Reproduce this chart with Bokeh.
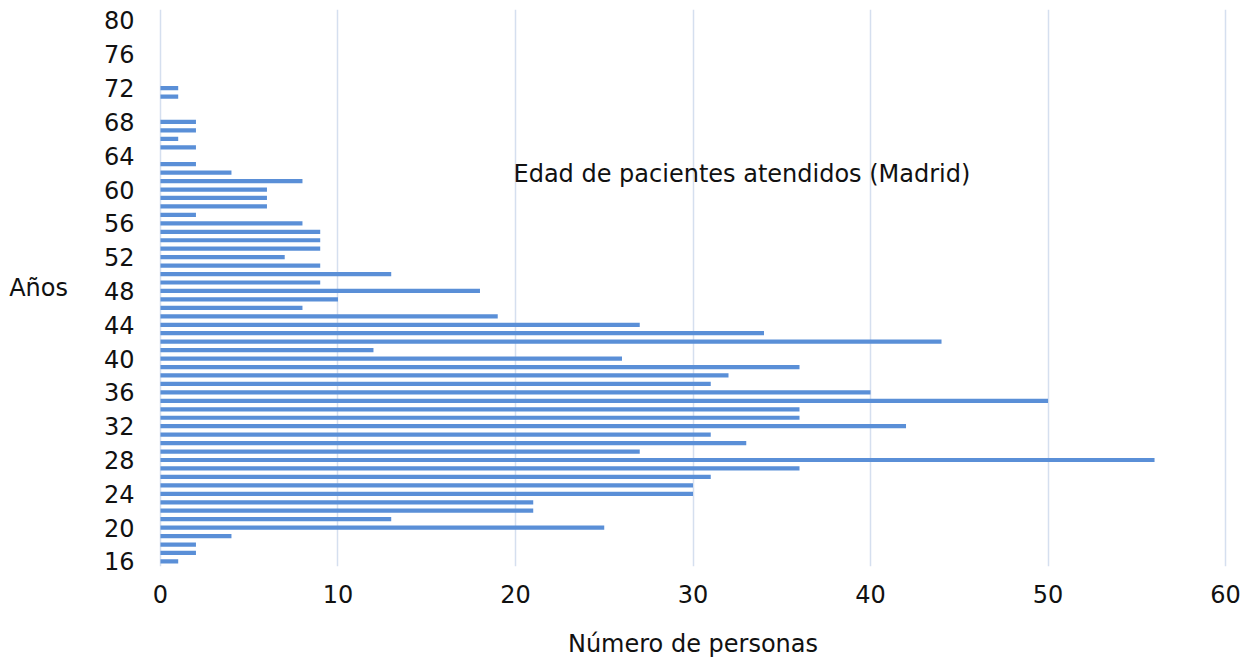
from bokeh.plotting import figure
from bokeh.models import Range1d, FixedTicker, Label, ColumnDataSource
from bokeh.embed import file_html
from bokeh.resources import INLINE

# --- data ---
ages = list(range(16, 81))
counts = [1, 2, 2, 4, 25, 13, 21, 21, 30, 30, 31, 36, 56, 27, 33, 31, 42, 36, 36, 50,
          40, 31, 32, 36, 26, 12, 44, 34, 27, 19, 8, 10, 18, 9, 13, 9, 7, 9, 9, 9,
          8, 2, 6, 6, 6, 8, 4, 2, 0, 2, 1, 2, 2, 0, 0, 1, 1, 0, 0, 0, 0, 0, 0, 0, 0]
y_ticks = [16, 20, 24, 28, 32, 36, 40, 44, 48, 52, 56, 60, 64, 68, 72, 76, 80]
x_ticks = [0, 10, 20, 30, 40, 50, 60]
title_text = "Edad de pacientes atendidos (Madrid)"
x_title = "Número de personas"
y_title = "Años"

FONT = "DejaVu Sans"
FS = "24px"
TXT = "#111111"

src = ColumnDataSource(data=dict(age=ages, n=counts))

p = figure(frame_width=1069, frame_height=557,
           min_border_left=158, min_border_right=23,
           min_border_top=9, min_border_bottom=88,
           x_range=Range1d(-0.11, 60.11), y_range=Range1d(15.4, 81.3),
           output_backend="svg", toolbar_location=None)
p.outline_line_color = None
p.background_fill_color = "white"
p.border_fill_color = "white"

p.hbar(y="age", right="n", left=0, height=0.5, source=src,
       fill_color="#5A8FD7", line_color=None)

# axes
p.xaxis.ticker = FixedTicker(ticks=x_ticks)
p.yaxis.ticker = FixedTicker(ticks=y_ticks)
for ax in (p.xaxis[0], p.yaxis[0]):
    ax.axis_line_color = None
    ax.major_tick_line_color = None
    ax.minor_tick_line_color = None
    ax.major_tick_out = 0
    ax.major_tick_in = 0
    ax.major_label_text_font = FONT
    ax.major_label_text_font_size = FS
    ax.major_label_text_color = TXT
    ax.axis_label_text_font = FONT
    ax.axis_label_text_font_size = FS
    ax.axis_label_text_font_style = "normal"
    ax.axis_label_text_color = TXT
p.yaxis.major_label_standoff = 24
p.xaxis.major_label_standoff = 18
p.xaxis.axis_label = x_title
p.xaxis.axis_label_standoff = 24
p.yaxis.axis_label = y_title
p.yaxis.axis_label_orientation = "horizontal"
p.yaxis.axis_label_standoff = 33

p.xgrid.ticker = FixedTicker(ticks=x_ticks)
p.xgrid.grid_line_color = "#D5DFEF"
p.xgrid.grid_line_width = 1.5
p.ygrid.grid_line_color = None

# title inside the plot area
p.add_layout(Label(x=355, y=393, x_units="screen", y_units="screen",
                   text=title_text, text_font=FONT, text_font_size=FS,
                   text_color=TXT, text_baseline="middle", text_align="left"))

open("out.html", "w").write(file_html(p, INLINE))
